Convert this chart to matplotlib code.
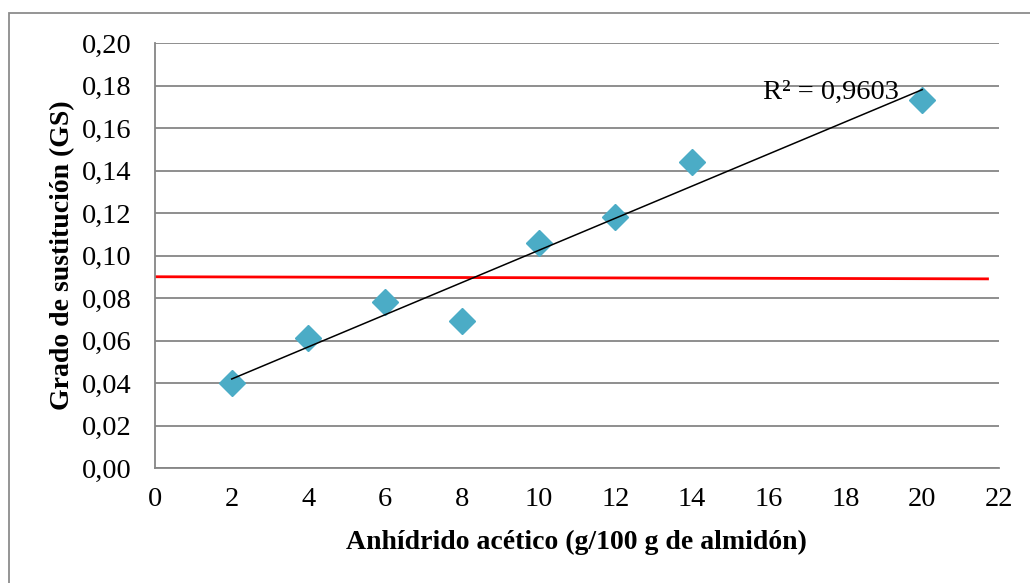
import numpy as np
import matplotlib
matplotlib.use('Agg')
import matplotlib.pyplot as plt
from matplotlib.patches import Rectangle

# data
anhidrido = [2, 4, 6, 8, 10, 12, 14, 20]
grado_sust = [0.040, 0.061, 0.078, 0.069, 0.106, 0.118, 0.144, 0.173]
ref_x = [0, 21.7]
ref_y = [0.090, 0.089]
r2_label = 'R² = 0,9603'
x_ticks = list(range(0, 23, 2))
y_ticks = [0.00, 0.02, 0.04, 0.06, 0.08, 0.10, 0.12, 0.14, 0.16, 0.18, 0.20]

plt.rcParams['font.family'] = ['Liberation Serif', 'DejaVu Serif']

fig = plt.figure(figsize=(10.3, 5.83), dpi=100)
ax = fig.add_axes([155 / 1030, 1 - 468 / 583, (999 - 155) / 1030, (468 - 43) / 583])

# outer chart border
fig.patches.append(Rectangle((9 / 1030, -0.05), 1.2, 1 - 13 / 583 + 0.05,
                             transform=fig.transFigure, fill=False,
                             edgecolor='#8c8c8c', linewidth=1.3))

ax.plot(anhidrido, grado_sust, linestyle='none', marker='D', markersize=13,
        color='#4BACC6', zorder=3)

# linear trend line
slope, intercept = np.polyfit(anhidrido, grado_sust, 1)
tx = np.array([min(anhidrido), max(anhidrido)])
ax.plot(tx, slope * tx + intercept, color='black', linewidth=1.1, zorder=4)

ax.plot(ref_x, ref_y, color='#ff0000', linewidth=2, zorder=2)

ax.text(15.85, 0.1768, r2_label, fontsize=20.5, ha='left', va='center', zorder=5)

ax.set_xlim(0, 22)
ax.set_ylim(0, 0.20)
ax.set_xticks(x_ticks)
ax.set_yticks(y_ticks)
ax.set_yticklabels([f'{v:.2f}'.replace('.', ',') for v in y_ticks])
ax.tick_params(length=0, labelsize=20.5)
ax.tick_params(axis='y', pad=17)
ax.tick_params(axis='x', pad=14)

ax.grid(axis='y', color='#868686', linewidth=1.3)
ax.set_axisbelow(True)
for s in ['top', 'right']:
    ax.spines[s].set_visible(False)
for s in ['left', 'bottom']:
    ax.spines[s].set_color('#868686')
    ax.spines[s].set_linewidth(1.3)

ax.set_xlabel('Anhídrido acético (g/100 g de almidón)', fontsize=20,
              fontweight='bold', va='center', ha='center')
ax.xaxis.set_label_coords(0.499, -0.176)
ax.set_ylabel('Grado de sustitución (GS)', fontsize=20, fontweight='bold',
              va='center', ha='center')
ax.yaxis.set_label_coords(-0.110, 0.501)

fig.savefig('out.png', dpi=100)
